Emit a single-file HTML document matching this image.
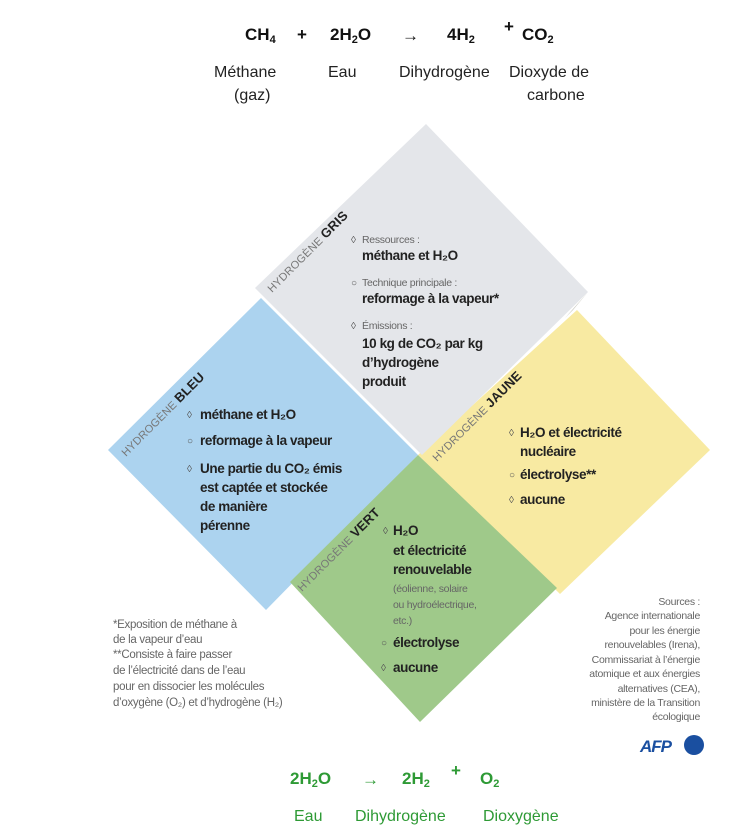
<!DOCTYPE html>
<html><head><meta charset="utf-8"><style>
html,body{margin:0;padding:0;background:#fff;}
svg{display:block;font-family:"Liberation Sans",sans-serif;}
.b{font-size:13.5px;fill:#222;font-weight:bold;letter-spacing:-0.4px}
.s{font-size:10.5px;fill:#666;letter-spacing:-0.3px}
.g{font-size:11.5px;fill:#666;letter-spacing:-0.3px}
.bu{font-size:10px;fill:#555}
.lab{font-size:11px;fill:#777;letter-spacing:0.2px}
.lab tspan{font-weight:bold;fill:#222;font-size:13px}
.eq{font-size:17px;font-weight:bold;fill:#111}
.el{font-size:16px;fill:#222}
.geq{font-size:17px;font-weight:bold;fill:#2e9a35}
.gl{font-size:16px;fill:#2e9a35}
</style></head><body>
<svg width="740" height="831" viewBox="0 0 740 831" xmlns="http://www.w3.org/2000/svg">
<text class="eq" x="245" y="40">CH<tspan font-size="11" dy="3">4</tspan></text>
<text class="eq" x="297" y="40">+</text>
<text class="eq" x="330" y="40">2H<tspan font-size="11" dy="3">2</tspan><tspan dy="-3">O</tspan></text>
<text class="eq" x="402" y="41" font-size="22">→</text>
<text class="eq" x="447" y="40">4H<tspan font-size="11" dy="3">2</tspan></text>
<text class="eq" x="504" y="32" font-size="10">+</text>
<text class="eq" x="522" y="40">CO<tspan font-size="11" dy="3">2</tspan></text>
<text class="el" x="214" y="77">Méthane</text>
<text class="el" x="234" y="100">(gaz)</text>
<text class="el" x="328" y="77">Eau</text>
<text class="el" x="399" y="77">Dihydrogène</text>
<text class="el" x="509" y="77">Dioxyde de</text>
<text class="el" x="527" y="100">carbone</text>

<polygon points="261,298 418,455 266,610 108,450" fill="#acd3ef"/>
<polygon points="577,310 710,450 560,594 418,455" fill="#f8eaa2"/>
<polygon points="426,124 588,292 422,455 255,288" fill="#e4e6ea"/>
<polygon points="418,455 557,588 420,722 290,582" fill="#9fc98a"/>
<polygon points="573,310 588,292 565,318" fill="#c9c9c0"/>

<text class="lab" transform="translate(272,293) rotate(-45)">HYDROGÈNE <tspan>GRIS</tspan></text>
<text class="lab" transform="translate(126,457) rotate(-45)">HYDROGÈNE <tspan>BLEU</tspan></text>
<text class="lab" transform="translate(437,462) rotate(-45)">HYDROGÈNE <tspan>JAUNE</tspan></text>
<text class="lab" transform="translate(302,592) rotate(-45)">HYDROGÈNE <tspan>VERT</tspan></text>

<text class="bu" x="351" y="243">◊</text><text class="s" x="362" y="243">Ressources :</text>
<text class="b" x="362" y="260">méthane et H₂O</text>
<text class="bu" x="351" y="286">○</text><text class="s" x="362" y="286">Technique principale :</text>
<text class="b" x="362" y="303">reformage à la vapeur*</text>
<text class="bu" x="351" y="329">◊</text><text class="s" x="362" y="329">Émissions :</text>
<text class="b" x="362" y="348">10 kg de CO₂ par kg</text>
<text class="b" x="362" y="367">d’hydrogène</text>
<text class="b" x="362" y="386">produit</text>

<text class="bu" x="187" y="418">◊</text><text class="b" x="200" y="419">méthane et H₂O</text>
<text class="bu" x="187" y="444">○</text><text class="b" x="200" y="445">reformage à la vapeur</text>
<text class="bu" x="187" y="472">◊</text><text class="b" x="200" y="473">Une partie du CO₂ émis</text>
<text class="b" x="200" y="492">est captée et stockée</text>
<text class="b" x="200" y="511">de manière</text>
<text class="b" x="200" y="530">pérenne</text>

<text class="bu" x="509" y="436">◊</text><text class="b" x="520" y="437">H₂O et électricité</text>
<text class="b" x="520" y="456">nucléaire</text>
<text class="bu" x="509" y="478">○</text><text class="b" x="520" y="479">électrolyse**</text>
<text class="bu" x="509" y="503">◊</text><text class="b" x="520" y="504">aucune</text>

<text class="bu" x="383" y="534">◊</text><text class="b" x="393" y="535">H₂O</text>
<text class="b" x="393" y="555">et électricité</text>
<text class="b" x="393" y="574">renouvelable</text>
<text class="s" x="393" y="592" font-size="11" fill="#5a6a50">(éolienne, solaire</text>
<text class="s" x="393" y="608" font-size="11" fill="#5a6a50">ou hydroélectrique,</text>
<text class="s" x="393" y="624" font-size="11" fill="#5a6a50">etc.)</text>
<text class="bu" x="381" y="646">○</text><text class="b" x="393" y="647">électrolyse</text>
<text class="bu" x="381" y="671">◊</text><text class="b" x="393" y="672">aucune</text>

<text class="g" x="113" y="628">*Exposition de méthane à</text>
<text class="g" x="113" y="643">de la vapeur d’eau</text>
<text class="g" x="113" y="658">**Consiste à faire passer</text>
<text class="g" x="113" y="674">de l’électricité dans de l’eau</text>
<text class="g" x="113" y="690">pour en dissocier les molécules</text>
<text class="g" x="113" y="706">d’oxygène (O₂) et d’hydrogène (H₂)</text>

<g class="s" text-anchor="end" fill="#777">
<text x="700" y="605">Sources :</text>
<text x="700" y="619">Agence internationale</text>
<text x="700" y="634">pour les énergie</text>
<text x="700" y="648">renouvelables (Irena),</text>
<text x="700" y="663">Commissariat à l’énergie</text>
<text x="700" y="677">atomique et aux énergies</text>
<text x="700" y="692">alternatives (CEA),</text>
<text x="700" y="706">ministère de la Transition</text>
<text x="700" y="720">écologique</text>
</g>
<text x="640" y="752" font-size="17" font-weight="bold" font-style="italic" fill="#1a4fa0" letter-spacing="-1">AFP</text>
<circle cx="694" cy="745" r="10" fill="#1a4fa0"/>

<text class="geq" x="290" y="784">2H<tspan font-size="11" dy="3">2</tspan><tspan dy="-3">O</tspan></text>
<text class="geq" x="362" y="785" font-size="22">→</text>
<text class="geq" x="402" y="784">2H<tspan font-size="11" dy="3">2</tspan></text>
<text class="geq" x="451" y="776" font-size="10">+</text>
<text class="geq" x="480" y="784">O<tspan font-size="11" dy="3">2</tspan></text>
<text class="gl" x="294" y="821">Eau</text>
<text class="gl" x="355" y="821">Dihydrogène</text>
<text class="gl" x="483" y="821">Dioxygène</text>
</svg>
</body></html>
